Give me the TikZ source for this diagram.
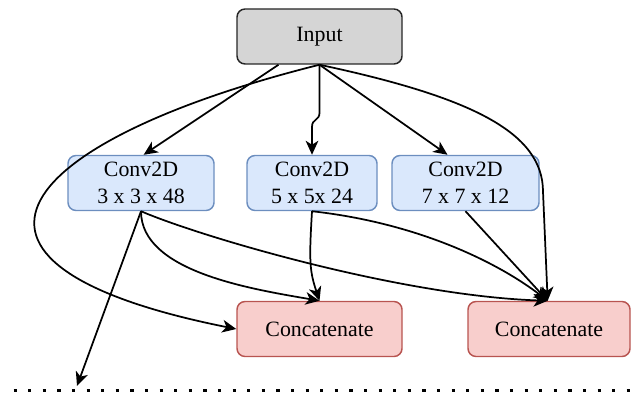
\documentclass[tikz,border=0pt]{standalone}
\usepackage{fontspec}
\setmainfont{Liberation Serif}
\usetikzlibrary{arrows.meta}

\definecolor{inputgrau}{HTML}{D5D5D5}
\definecolor{convblau}{HTML}{DAE8FC}
\definecolor{convrand}{HTML}{6C8EBF}
\definecolor{catrot}{HTML}{F8CECC}
\definecolor{catrand}{HTML}{B85450}

\begin{document}
\begin{tikzpicture}[x=0.75pt,y=-0.75pt,
	box/.style={draw,rounded corners=6pt,line width=1.1pt,align=center,inner sep=0pt,minimum height=41.25pt,font=\fontsize{16.4}{20}\selectfont},
	pfeil/.style={-{Stealth[length=10.5pt,width=9.5pt,inset=3pt]},line width=1.3pt}]
	\useasboundingbox (0,0) rectangle (634,392);
	%Knoten zeichnen
	\node[box,fill=inputgrau,draw=black!85,minimum width=123.75pt] (input) at (319.5,36.5) {Input};
	\node[box,fill=convblau,draw=convrand,minimum width=109.5pt] (convA) at (141,183) {Conv2D\\3 x 3 x 48};
	\node[box,fill=convblau,draw=convrand,minimum width=97.5pt] (convB) at (312,183) {Conv2D\\5 x 5x 24};
	\node[box,fill=convblau,draw=convrand,minimum width=110.25pt] (convC) at (465.5,183) {Conv2D\\7 x 7 x 12};
	\node[box,fill=catrot,draw=catrand,minimum width=123.75pt] (catA) at (319.5,329) {Concatenate};
	\node[box,fill=catrot,draw=catrand,minimum width=121.5pt] (catB) at (549,329) {Concatenate};
	\coordinate (aus) at (77,386);
	%Verbindungen vom Input
	\draw[pfeil] ([xshift=-30.75pt]input.south) -- ([xshift=2pt]convA.north);
	\draw[pfeil] (input.south) -- ++(0,48) .. controls +(0,8) and +(0,-8) .. ++(-7.5,14) -- (convB.north);
	\draw[pfeil] (input.south) -- ([xshift=-13.5pt]convC.north);
	\draw[pfeil] (input.south) .. controls +(-300,75) and +(-330,-66) .. (catA.west);
	\draw[pfeil] (input.south) .. controls +(150,32) and +(0,-60) .. ++(223.5,127) -- ([xshift=-1pt]catB.north);
	%Verbindungen zu Concatenate
	\draw[pfeil] (convA.south) .. controls +(0,60) and +(-70,-12) .. (catA.north);
	\draw[pfeil] (convA.south) .. controls +(58,25) and +(-148,-5) .. ([xshift=-1pt]catB.north);
	\draw[pfeil] (convB.south) .. controls +(-3,50) and +(-10,-30) .. (catA.north);
	\draw[pfeil] (convB.south) .. controls +(108,12) and +(-48,-37) .. ([xshift=-1pt]catB.north);
	\draw[pfeil] (convC.south) -- ([xshift=-1pt]catB.north);
	\draw[pfeil] (convA.south) -- (aus);
	%gepunktete Linie
	\draw[line width=2.4pt,dash pattern=on 2.4pt off 8.55pt] (13.5,390.5) -- (634,390.5);
\end{tikzpicture}
\end{document}
